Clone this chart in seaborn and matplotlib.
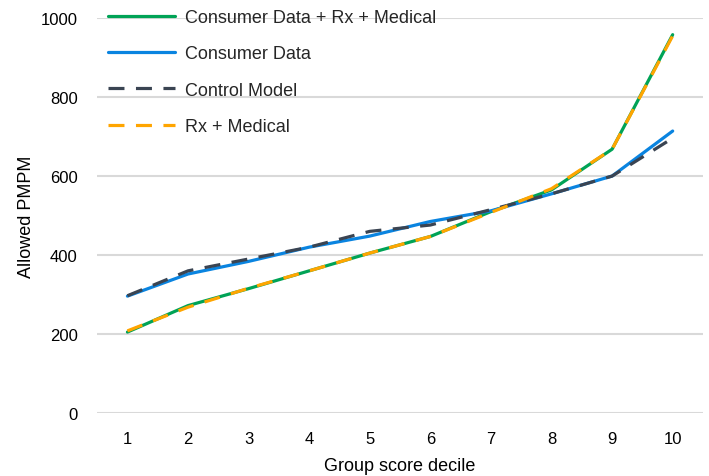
import matplotlib
matplotlib.use("Agg")
import matplotlib.pyplot as plt
import seaborn as sns
import pandas as pd

deciles = [1, 2, 3, 4, 5, 6, 7, 8, 9, 10]
consumer_rx_medical = [205, 272, 315, 360, 405, 447, 510, 565, 668, 958]
consumer_data = [296, 352, 384, 420, 448, 485, 512, 555, 600, 714]
control_model = [297, 360, 390, 420, 460, 476, 515, 555, 600, 696]
rx_medical = [208, 268, 316, 360, 405, 447, 508, 568, 668, 955]

series_names = ["Consumer Data + Rx + Medical", "Consumer Data", "Control Model", "Rx + Medical"]
series_values = [consumer_rx_medical, consumer_data, control_model, rx_medical]
colors = ["#00A356", "#0A84E0", "#3A4452", "#FFA500"]
dashed = [False, False, True, True]

sns.set_theme(style="white")
plt.rcParams["font.family"] = ["Liberation Sans", "DejaVu Sans"]

fig = plt.figure(figsize=(7.09, 4.77), dpi=100)
ax = fig.add_axes([0.137, 0.132, 0.8545, 0.828])

for name, vals, col, dsh in zip(series_names, series_values, colors, dashed):
    df = pd.DataFrame({"decile": deciles, "value": vals})
    sns.lineplot(data=df, x="decile", y="value", ax=ax, color=col, linewidth=2.3,
                 label=name, linestyle="--" if dsh else "-")

for line, dsh in zip(ax.get_lines(), dashed):
    if dsh:
        line.set_dashes((5, 3.6))

ax.set_xlim(0.5, 10.5)
ax.set_ylim(0, 1000)
ax.set_xticks(deciles)
ax.set_yticks([0, 200, 400, 600, 800, 1000])
ax.tick_params(axis="both", length=0, labelsize=12, colors="#000000")
ax.tick_params(axis="x", pad=13)
ax.tick_params(axis="y", pad=14)
ax.yaxis.grid(True, color="#D9D9D9", linewidth=1.5)
ax.xaxis.grid(False)
for s in ax.spines.values():
    s.set_visible(False)
ax.set_xlabel("Group score decile", fontsize=13, color="#000000", labelpad=8)
ax.set_ylabel("Allowed PMPM", fontsize=13, color="#000000", labelpad=4)

handles, labels = ax.get_legend_handles_labels()
ax.legend(handles, labels, loc="upper left", bbox_to_anchor=(0.152, 0.979),
          bbox_transform=fig.transFigure, frameon=False, fontsize=13,
          handlelength=3.75, handletextpad=0.5, labelspacing=1.07,
          borderaxespad=0, borderpad=0)

fig.savefig("out.png", dpi=100)
